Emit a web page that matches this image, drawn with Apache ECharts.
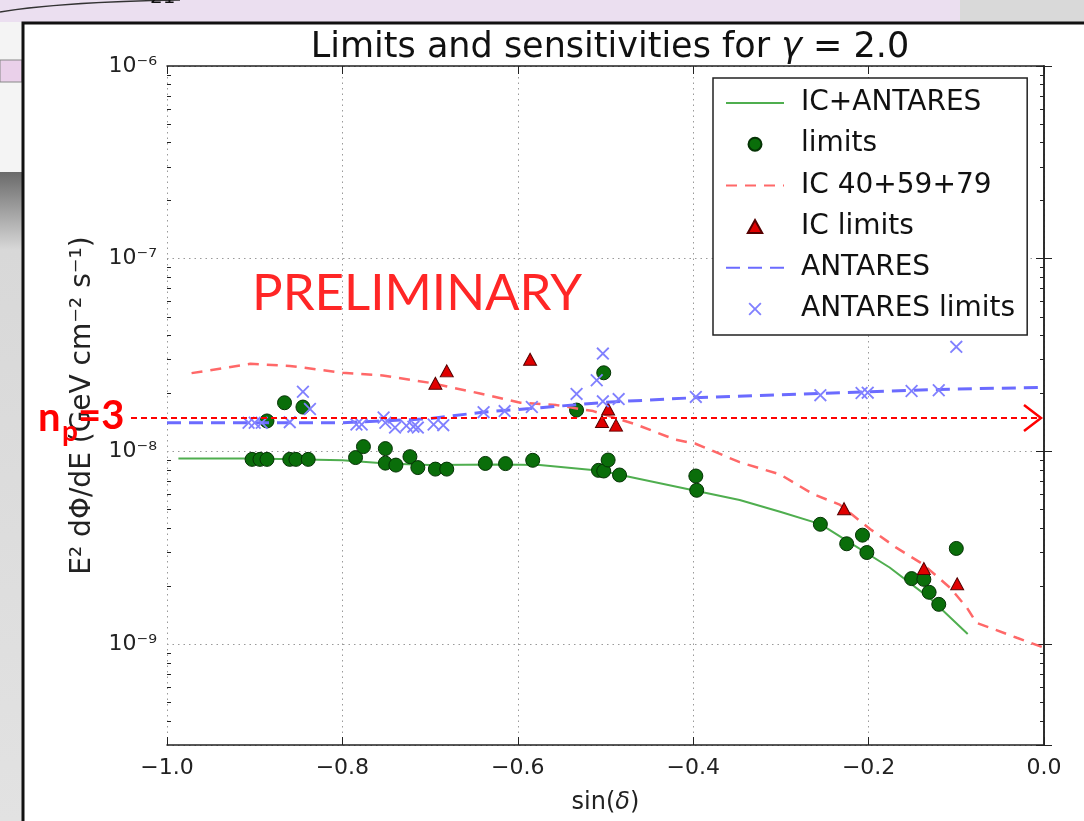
<!DOCTYPE html>
<html><head><meta charset="utf-8">
<script src="https://cdn.jsdelivr.net/npm/echarts@6/dist/echarts.min.js"></script>
<style>html,body{margin:0;padding:0;background:#d8d8d8}#c{width:1084px;height:821px}</style>
</head><body><div id="c"></div><script>
const FONT = '"DejaVu Sans", sans-serif';

// ---- data ----
const combinedX = [-0.987, -0.9, -0.8, -0.75, -0.70, -0.62, -0.575, -0.503, -0.48, -0.40, -0.347, -0.30, -0.255, -0.225, -0.176, -0.13, -0.087];
const combinedY = [9.2e-9, 9.2e-9, 9.0e-9, 8.65e-9, 8.5e-9, 8.55e-9, 8.5e-9, 7.92e-9, 7.5e-9, 6.3e-9, 5.6e-9, 4.85e-9, 4.2e-9, 3.45e-9, 2.5e-9, 1.73e-9, 1.13e-9];

const limitsX = [-0.903, -0.894, -0.886, -0.886, -0.866, -0.845, -0.860, -0.853, -0.839, -0.785, -0.776, -0.751, -0.751, -0.739, -0.723, -0.714, -0.694, -0.681, -0.637, -0.614, -0.583, -0.533, -0.508, -0.502, -0.502, -0.497, -0.484, -0.397, -0.396, -0.255, -0.225, -0.207, -0.202, -0.151, -0.137, -0.131, -0.120, -0.100];
const limitsY = [9.1e-9, 9.1e-9, 9.1e-9, 1.44e-8, 1.79e-8, 1.70e-8, 9.1e-9, 9.1e-9, 9.1e-9, 9.3e-9, 1.06e-8, 1.035e-8, 8.7e-9, 8.5e-9, 9.4e-9, 8.25e-9, 8.1e-9, 8.1e-9, 8.67e-9, 8.65e-9, 9.0e-9, 1.64e-8, 7.98e-9, 2.56e-8, 7.92e-9, 9.03e-9, 7.55e-9, 7.46e-9, 6.29e-9, 4.19e-9, 3.32e-9, 3.68e-9, 2.99e-9, 2.19e-9, 2.17e-9, 1.86e-9, 1.61e-9, 3.14e-9];

const icX = [-0.972, -0.905, -0.86, -0.8, -0.754, -0.70, -0.643, -0.597, -0.556, -0.514, -0.465, -0.42, -0.398, -0.347, -0.301, -0.263, -0.233, -0.198, -0.168, -0.138, -0.107, -0.088, -0.077, -0.058, -0.031, 0.0];
const icY = [2.55e-8, 2.85e-8, 2.78e-8, 2.56e-8, 2.48e-8, 2.27e-8, 2.0e-8, 1.79e-8, 1.74e-8, 1.62e-8, 1.38e-8, 1.15e-8, 1.1e-8, 8.8e-9, 7.6e-9, 6.0e-9, 5.3e-9, 3.95e-9, 3.16e-9, 2.6e-9, 1.96e-9, 1.55e-9, 1.29e-9, 1.2e-9, 1.08e-9, 9.6e-10];

const icLimX = [-0.694, -0.681, -0.586, -0.497, -0.504, -0.488, -0.228, -0.137, -0.099];
const icLimY = [2.26e-8, 2.62e-8, 3.01e-8, 1.66e-8, 1.43e-8, 1.37e-8, 5.05e-9, 2.47e-9, 2.06e-9];

const antX = [-1.0, -0.8, -0.7, -0.64, -0.586, -0.5, -0.4, -0.255, -0.12, 0.0];
const antY = [1.41e-8, 1.41e-8, 1.48e-8, 1.6e-8, 1.67e-8, 1.8e-8, 1.9e-8, 2.0e-8, 2.1e-8, 2.15e-8];

const antLimX = [-0.907, -0.900, -0.892, -0.860, -0.845, -0.837, -0.784, -0.778, -0.753, -0.751, -0.740, -0.727, -0.719, -0.714, -0.696, -0.685, -0.639, -0.615, -0.584, -0.533, -0.510, -0.503, -0.503, -0.485, -0.397, -0.255, -0.208, -0.201, -0.151, -0.120, -0.100];
const antLimY = [1.41e-8, 1.41e-8, 1.41e-8, 1.42e-8, 2.04e-8, 1.66e-8, 1.38e-8, 1.38e-8, 1.50e-8, 1.41e-8, 1.33e-8, 1.36e-8, 1.345e-8, 1.33e-8, 1.38e-8, 1.37e-8, 1.60e-8, 1.62e-8, 1.70e-8, 1.99e-8, 2.34e-8, 3.22e-8, 1.82e-8, 1.87e-8, 1.92e-8, 1.96e-8, 2.01e-8, 2.02e-8, 2.06e-8, 2.08e-8, 3.49e-8];

const xTicks = [-1.0, -0.8, -0.6, -0.4, -0.2, 0.0];
const yMin = 3e-10, yMax = 1e-6;
const yMinorTicks = [4e-10,5e-10,6e-10,7e-10,8e-10,9e-10, 2e-9,3e-9,4e-9,5e-9,6e-9,7e-9,8e-9,9e-9, 2e-8,3e-8,4e-8,5e-8,6e-8,7e-8,8e-8,9e-8, 2e-7,3e-7,4e-7,5e-7,6e-7,7e-7,8e-7,9e-7];

const seriesNames = ['IC+ANTARES', 'limits', 'IC 40+59+79', 'IC limits', 'ANTARES', 'ANTARES limits'];

const pairs = (xs, ys) => xs.map((x, i) => [x, ys[i]]);
const SUP = {'-':'\u207B','0':'\u2070','1':'\u00B9','2':'\u00B2','3':'\u00B3','4':'\u2074','5':'\u2075','6':'\u2076','7':'\u2077','8':'\u2078','9':'\u2079'};
const sup = s => String(s).split('').map(c => SUP[c] || c).join('');
const crossPath = 'path://M0,1L1,0L5,4L9,0L10,1L6,5L10,9L9,10L5,6L1,10L0,9L4,5Z';
const triPath = 'path://M5,0L10,9L0,9Z';

const chart = echarts.init(document.getElementById('c'), null, {renderer: 'canvas'});

const axisLineStyle = {color: '#222', width: 1.5};
const L = Math.log10;

const option = {
  animation: false,
  backgroundColor: 'transparent',
  title: {
    text: 'Limits and sensitivities for {g|γ} = 2.0',
    left: 605, top: 25, textAlign: 'center',
    textStyle: {fontFamily: FONT, fontSize: 35, fontWeight: 'normal', color: '#111',
      rich: {g: {fontFamily: FONT, fontSize: 35, fontStyle: 'italic', color: '#111'}}}
  },
  grid: {left: 167, right: 40, top: 66, bottom: 76, containLabel: false},
  legend: {
    orient: 'vertical', left: 713, top: 78,
    padding: [11, 12, 12, 12], itemGap: 13.2, itemWidth: 58, itemHeight: 13,
    backgroundColor: '#fff', borderColor: '#222', borderWidth: 1.5, borderRadius: 0,
    textStyle: {fontFamily: FONT, fontSize: 28, color: '#111', lineHeight: 28, padding: [0, 0, 0, 12]},
    data: [
      {name: seriesNames[0], itemStyle: {opacity: 0}},
      {name: seriesNames[1]},
      {name: seriesNames[2], itemStyle: {opacity: 0}},
      {name: seriesNames[3], icon: triPath},
      {name: seriesNames[4], itemStyle: {opacity: 0}},
      {name: seriesNames[5]}
    ],
    selectedMode: false
  },
  xAxis: [
    {type: 'value', position: 'bottom', min: -1, max: 0, interval: 0.2,
     axisLine: {show: true, lineStyle: axisLineStyle},
     axisTick: {show: true, inside: true, length: 8, lineStyle: {color: '#222', width: 1}},
     axisLabel: {fontFamily: FONT, fontSize: 22, color: '#222', margin: 12,
       formatter: v => (v < -1e-9 ? '\u2212' : '') + Math.abs(v).toFixed(1)},
     splitLine: {show: true, lineStyle: {color: '#9a9a9a', width: 1, type: [1.5, 4]}},
     name: 'sin({d|δ})', nameLocation: 'middle', nameGap: 46,
     nameTextStyle: {fontFamily: FONT, fontSize: 24, color: '#222',
       rich: {d: {fontFamily: FONT, fontSize: 24, fontStyle: 'italic', color: '#222'}}}
    },
    {type: 'value', position: 'top', min: -1, max: 0, interval: 0.2,
     axisLine: {show: true, lineStyle: axisLineStyle},
     axisTick: {show: true, inside: true, length: 8, lineStyle: {color: '#222', width: 1}},
     axisLabel: {show: false}, splitLine: {show: false}}
  ],
  yAxis: [
    {type: 'log', logBase: 10, position: 'left', min: yMin, max: yMax, offset: 0,
     axisLine: {show: true, lineStyle: axisLineStyle},
     axisTick: {show: true, inside: true, length: 8, lineStyle: {color: '#222', width: 1}},
     axisLabel: {fontFamily: FONT, fontSize: 22, color: '#222', margin: 10,
       formatter: v => { const e = L(v); if (Math.abs(e - Math.round(e)) > 1e-6) return ''; return '10' + sup(Math.round(e)); }},
     splitLine: {show: true, lineStyle: {color: '#9a9a9a', width: 1, type: [1.5, 4]}},
     name: 'E\u00B2 d\u03A6/dE (GeV cm\u207B\u00B2 s\u207B\u00B9)', nameLocation: 'middle', nameGap: 70,
     nameTextStyle: {fontFamily: FONT, fontSize: 28, color: '#222'}
    },
    {type: 'log', logBase: 10, position: 'right', min: yMin, max: yMax, offset: 0,
     axisLine: {show: true, lineStyle: axisLineStyle},
     axisTick: {show: true, inside: true, length: 8, lineStyle: {color: '#222', width: 1}},
     axisLabel: {show: false}, splitLine: {show: false}},
    {type: 'value', position: 'left', min: L(yMin), max: L(yMax), offset: 0,
     axisLine: {show: false},
     axisTick: {show: true, inside: true, length: 4, customValues: yMinorTicks.map(L), lineStyle: {color: '#222', width: 1}},
     axisLabel: {show: false}, splitLine: {show: false}},
    {type: 'value', position: 'right', min: L(yMin), max: L(yMax), offset: 0,
     axisLine: {show: false},
     axisTick: {show: true, inside: true, length: 4, customValues: yMinorTicks.map(L), lineStyle: {color: '#222', width: 1}},
     axisLabel: {show: false}, splitLine: {show: false}}
  ],
  series: [
    {name: seriesNames[0], type: 'line', data: pairs(combinedX, combinedY), symbol: 'none',
     lineStyle: {color: '#4fae4f', width: 2}, itemStyle: {color: '#4fae4f'}, z: 2},
    {name: seriesNames[1], type: 'scatter', data: pairs(limitsX, limitsY), symbol: 'circle', symbolSize: 14,
     itemStyle: {color: '#0a6e0a', borderColor: '#053305', borderWidth: 1, opacity: 1}, z: 3},
    {name: seriesNames[2], type: 'line', data: pairs(icX, icY), symbol: 'none',
     lineStyle: {color: '#ff6868', width: 2.5, type: [11, 8]}, itemStyle: {color: '#ff6868'}, z: 4},
    {name: seriesNames[3], type: 'scatter', data: pairs(icLimX, icLimY), symbol: 'triangle', symbolSize: [13, 12],
     itemStyle: {color: '#e00000', borderColor: '#550000', borderWidth: 1, opacity: 1}, z: 5},
    {name: seriesNames[4], type: 'line', data: pairs(antX, antY), symbol: 'none',
     lineStyle: {color: '#6b6bff', width: 3, type: [14, 8]}, itemStyle: {color: '#6b6bff'}, z: 6},
    {name: seriesNames[5], type: 'scatter', data: pairs(antLimX, antLimY), symbol: crossPath, symbolSize: 13,
     itemStyle: {color: '#8080ff', opacity: 1}, z: 7}
  ],
  graphic: [
    {type: 'rect', z: -100, silent: true, shape: {x: 0, y: 0, width: 1084, height: 821}, style: {fill: '#d9d9d9'}},
    {type: 'rect', z: -99, silent: true, shape: {x: 0, y: 0, width: 960, height: 22}, style: {fill: '#ebdff0'}},
    {type: 'rect', z: -99, silent: true, shape: {x: 0, y: 22, width: 22, height: 150}, style: {fill: '#f4f4f4'}},
    {type: 'rect', z: -98, silent: true, shape: {x: 0, y: 60, width: 22, height: 22}, style: {fill: '#ead0ea', stroke: '#888', lineWidth: 1}},
    {type: 'rect', z: -98, silent: true, shape: {x: 0, y: 172, width: 22, height: 649},
     style: {fill: new echarts.graphic.LinearGradient(0, 0, 0, 1, [{offset: 0, color: '#6a6a6a'}, {offset: 0.12, color: '#d8d8d8'}, {offset: 1, color: '#e2e2e2'}])}},
    {type: 'bezierCurve', z: -97, silent: true, shape: {x1: 0, y1: 12, x2: 180, y2: 0, cpx1: 60, cpy1: 2}, style: {stroke: '#333', lineWidth: 1.5}},
    {type: 'text', z: -97, silent: true, left: 150, top: -12, style: {text: '21', font: '20px ' + FONT, fill: '#111'}},
    {type: 'rect', z: -96, silent: true, shape: {x: 23, y: 23, width: 1080, height: 820}, style: {fill: '#ffffff', stroke: '#111', lineWidth: 3}},
    // slide annotations
    {type: 'text', z: 100, silent: true, left: 252, top: 268,
     style: {text: 'PRELIMINARY', font: '51px Lato, "Open Sans", sans-serif', fill: '#ff2626'}},
    {type: 'line', z: 100, silent: true, shape: {x1: 131, y1: 418, x2: 1040, y2: 418},
     style: {stroke: '#ff0000', lineWidth: 2, lineDash: [6, 4]}},
    {type: 'polyline', z: 100, silent: true, shape: {points: [[1024, 405], [1041, 418], [1024, 431]]},
     style: {stroke: '#ff0000', lineWidth: 2.5, fill: 'none'}},
    {type: 'text', z: 101, silent: true, left: 38, top: 398,
     style: {text: 'n', font: 'bold 40px Lato, sans-serif', fill: '#ff0000'}},
    {type: 'text', z: 101, silent: true, left: 62, top: 418,
     style: {text: 'p', font: 'bold 28px Lato, sans-serif', fill: '#ff0000'}},
    {type: 'text', z: 101, silent: true, left: 78, top: 396,
     style: {text: '=3', font: 'bold 40px Lato, sans-serif', fill: '#ff0000'}}
  ]
};
chart.setOption(option);
</script></body></html>
